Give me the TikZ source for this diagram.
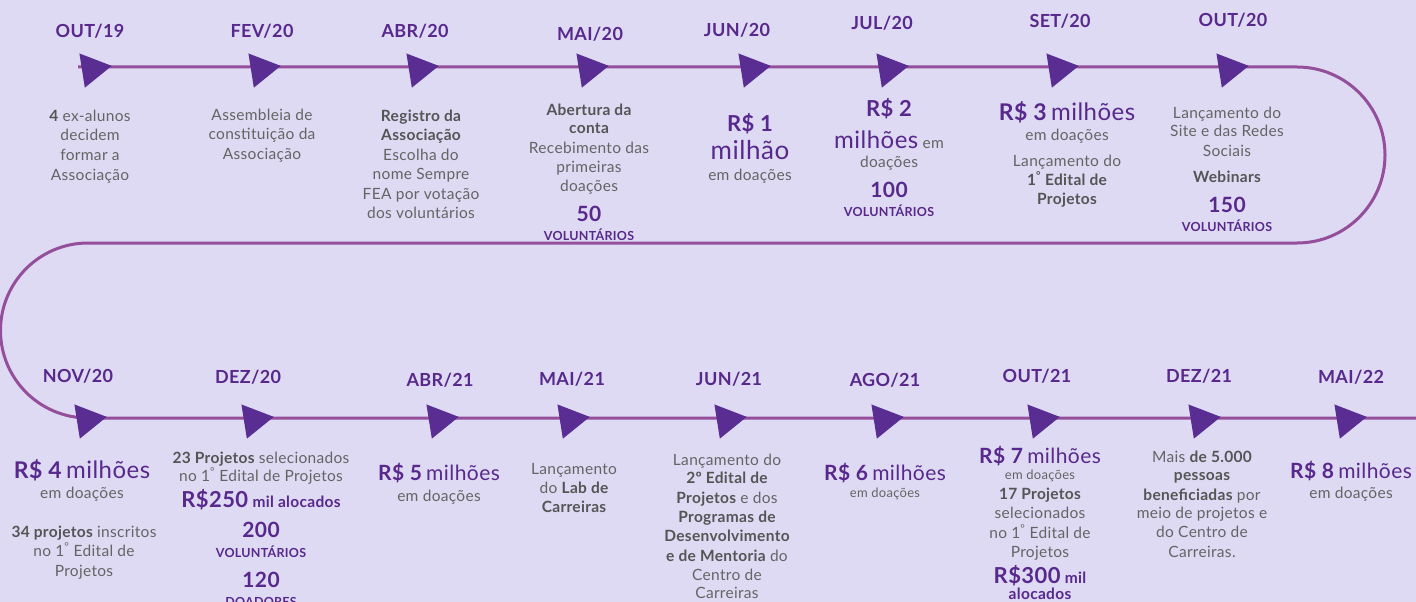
\documentclass[tikz,border=0pt]{standalone}
\usepackage{fontspec}
\setmainfont{Lato}[LetterSpace=2]
\usetikzlibrary{shapes.geometric}
\definecolor{bg}{RGB}{222,218,243}
\definecolor{purp}{RGB}{88,40,140}
\definecolor{gry}{RGB}{100,100,100}
\definecolor{linec}{RGB}{148,78,154}
\definecolor{trif}{RGB}{90,45,146}
\newcommand\RS[2][22]{{\fontsize{#1}{#1}\selectfont\bfseries\color{purp}#2}}
\newcommand\MI[2][22]{{\fontsize{#1}{#1}\selectfont\color{purp}#2}}
\newcommand\PB[1]{{\color{purp}\bfseries #1}}
\newcommand\bb[1]{{\bfseries\color{gry!85!black}#1}}
\newcommand\ord{\textsuperscript{°}}
\tikzset{
 date/.style={anchor=base, inner sep=0pt, text=purp, font=\fontsize{18}{21}\selectfont\bfseries},
 ln/.style={anchor=base, inner sep=0pt, text=gry, font=\fontsize{15.5}{19}\selectfont},
 sm/.style={ln, font=\fontsize{13}{16}\selectfont},
 num/.style={anchor=base, inner sep=0pt, text=purp, font=\fontsize{21}{24}\selectfont\bfseries},
 vol/.style={anchor=base, inner sep=0pt, text=purp, font=\fontsize{12.5}{15}\selectfont\bfseries},
 trimark/.style={regular polygon, regular polygon sides=3, fill=trif, inner sep=0pt, minimum size=40pt, rotate=-81},
 timeline/.style={draw=linec, line width=3pt}
}
\begin{document}
\begin{tikzpicture}[x=1pt,y=-1pt]
\fill[bg] (0,0) rectangle (1416,602);
\useasboundingbox (0,0) rectangle (1416,602);
% timeline path
\coordinate (s) at (78,67);
\coordinate (r1) at (1297,67);
\coordinate (l1) at (88,243);
\coordinate (e) at (1416,418);
\draw[timeline] (s) -- (r1) arc[start angle=90, end angle=-90, radius=88pt] -- (l1) arc[start angle=90, end angle=270, radius=87.5pt] -- (e);
% markers
\foreach \x [count=\i] in {92,261,419,589,751,889,1059,1229}
  \node[trimark] (t\i) at (\x,69) {};
\foreach \x [count=\i from 9] in {87,254,439,570,727,884,1040,1201,1347}
  \node[trimark] (t\i) at (\x,420) {};
% dates
\node[date] (d1) at (90,38) {OUT/19};
\node[date] (d2) at (262,38) {FEV/20};
\node[date] (d3) at (415,38) {ABR/20};
\node[date] (d4) at (590,41) {MAI/20};
\node[date] (d5) at (737,37) {JUN/20};
\node[date] (d6) at (882,30) {JUL/20};
\node[date] (d7) at (1060,28) {SET/20};
\node[date] (d8) at (1233,27) {OUT/20};
\node[date] (d9) at (78,382) {NOV/20};
\node[date] (d10) at (248,383) {DEZ/20};
\node[date] (d11) at (440,386) {ABR/21};
\node[date] (d12) at (572,385) {MAI/21};
\node[date] (d13) at (729,385) {JUN/21};
\node[date] (d14) at (885,386) {AGO/21};
\node[date] (d15) at (1037,382) {OUT/21};
\node[date] (d16) at (1199,382) {DEZ/21};
\node[date] (d17) at (1351,383) {MAI/22};
% item 1
\node[ln] (a1) at (90,121) {\bb{4} ex-alunos};
\node[ln] (a2) at (90,140) {decidem};
\node[ln] (a3) at (90,160) {formar a};
\node[ln] (a4) at (90,180) {Associação};
% item 2
\node[ln] (b1) at (262,120) {Assembleia de};
\node[ln] (b2) at (262,139) {constituição da};
\node[ln] (b3) at (262,159) {Associação};
% item 3
\node[ln] (c1) at (421,121) {\bb{Registro da}};
\node[ln] (c2) at (421,140) {\bb{Associação}};
\node[ln] (c3) at (421,160) {Escolha do};
\node[ln] (c4) at (421,179) {nome Sempre};
\node[ln] (c5) at (421,199) {FEA por votação};
\node[ln] (c6) at (421,218) {dos voluntários};
% item 4
\node[ln] (e1) at (589,115) {\bb{Abertura da}};
\node[ln] (e2) at (589,133) {\bb{conta}};
\node[ln] (e3) at (589,153) {Recebimento das};
\node[ln] (e4) at (589,172) {primeiras};
\node[ln] (e5) at (589,191) {doações};
\node[num] (e6) at (589,221) {50};
\node[vol] (e7) at (589,240) {VOLUNTÁRIOS};
% item 5
\node[ln] (f1) at (750,131) {\RS{R\$ 1}};
\node[ln] (f2) at (750,159) {\MI[26]{milhão}};
\node[ln] (f3) at (750,180) {em doações};
% item 6
\node[ln] (g1) at (889,116) {\RS{R\$ 2}};
\node[ln] (g2) at (889,148) {\MI[24]{milhões} em};
\node[ln] (g3) at (889,167) {doações};
\node[num] (g4) at (889,197) {100};
\node[vol] (g5) at (889,216) {VOLUNTÁRIOS};
% item 7
\node[ln] (h1) at (1067,120) {\RS[23]{R\$ 3} \MI[24]{milhões}};
\node[ln] (h2) at (1067,140) {em doações};
\node[ln] (h3) at (1067,166) {Lançamento do};
\node[ln] (h4) at (1067,185) {\bb{1\ord{} Edital de}};
\node[ln] (h5) at (1067,204) {\bb{Projetos}};
% item 8
\node[ln] (i1) at (1227,118) {Lançamento do};
\node[ln] (i2) at (1227,136) {Site e das Redes};
\node[ln] (i3) at (1227,156) {Sociais};
\node[ln] (i4) at (1227,182) {\bb{Webinars}};
\node[num] (i5) at (1227,212) {150};
\node[vol] (i6) at (1227,231) {VOLUNTÁRIOS};
% item 9
\node[ln] (j1) at (82,478) {\RS[23]{R\$ 4} \MI[24]{milhões}};
\node[ln] (j2) at (82,498) {em doações};
\node[ln] (j3) at (84,537) {\bb{34 projetos} inscritos};
\node[ln] (j4) at (84,556) {no 1\ord{} Edital de};
\node[ln] (j5) at (84,576) {Projetos};
% item 10
\node[ln] (k1) at (261,463) {\bb{23 Projetos} selecionados};
\node[ln] (k2) at (261,481) {no 1\ord{} Edital de Projetos};
\node[ln] (k3) at (261,507) {\RS{R\$250} \PB{mil alocados}};
\node[num] (k4) at (261,537) {200};
\node[vol] (k5) at (261,557) {VOLUNTÁRIOS};
\node[num] (k6) at (261,587) {120};
\node[vol] (k7) at (261,606) {DOADORES};
% item 11
\node[ln] (l1t) at (439,480) {\RS[21]{R\$ 5} \MI[21]{milhões}};
\node[ln] (l2t) at (439,501) {em doações};
% item 12
\node[ln] (m1) at (574,474) {Lançamento};
\node[ln] (m2) at (574,493) {do \bb{Lab de}};
\node[ln] (m3) at (574,512) {\bb{Carreiras}};
% item 13
\node[ln] (n1) at (727,465) {Lançamento do};
\node[ln] (n2) at (727,483) {\bb{2º Edital de}};
\node[ln] (n3) at (727,503) {\bb{Projetos} e dos};
\node[ln] (n4) at (727,522) {\bb{Programas de}};
\node[ln] (n5) at (727,541) {\bb{Desenvolvimento}};
\node[ln] (n6) at (727,561) {\bb{e de Mentoria} do};
\node[ln] (n7) at (727,580) {Centro de};
\node[ln] (n8) at (727,598) {Carreiras};
% item 14
\node[ln] (o1) at (885,480) {\RS[21]{R\$ 6} \MI[21]{milhões}};
\node[sm] (o2) at (885,497) {em doações};
% item 15
\node[ln] (p1) at (1040,463) {\RS[21]{R\$ 7} \MI[21]{milhões}};
\node[sm] (p2) at (1040,479) {em doações};
\node[ln] (p3) at (1040,499) {\bb{17 Projetos}};
\node[ln] (p4) at (1040,518) {selecionados};
\node[ln] (p5) at (1040,538) {no 1\ord{} Edital de};
\node[ln] (p6) at (1040,557) {Projetos};
\node[ln] (p7) at (1040,583) {\RS{R\$300} \PB{mil}};
\node[ln] (p8) at (1040,599) {\PB{alocados}};
% item 16
\node[ln] (q1) at (1202,462) {Mais \bb{de 5.000}};
\node[ln] (q2) at (1202,480) {\bb{pessoas}};
\node[ln] (q3) at (1202,500) {\bb{beneficiadas} por};
\node[ln] (q4) at (1202,518) {meio de projetos e};
\node[ln] (q5) at (1202,537) {do Centro de};
\node[ln] (q6) at (1202,557) {Carreiras.};
% item 17
\node[ln] (r1t) at (1351,478) {\RS[21]{R\$ 8} \MI[21]{milhões}};
\node[ln] (r2t) at (1351,498) {em doações};
\end{tikzpicture}
\end{document}
